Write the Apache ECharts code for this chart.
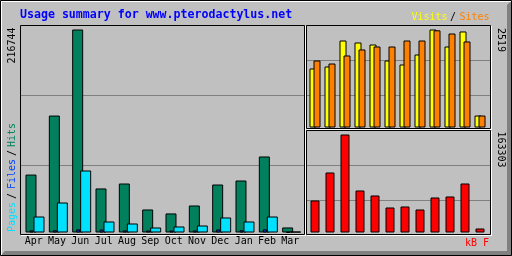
<!DOCTYPE html>
<html><head><meta charset="utf-8">
<script src="https://cdn.jsdelivr.net/npm/echarts@6/dist/echarts.min.js"></script>
<style>html,body{margin:0;padding:0;background:#c0c0c0}#c{width:512px;height:256px}</style>
</head><body><div id="c"></div>
<script>
// ---- data ----
const months = ['Apr','May','Jun','Jul','Aug','Sep','Oct','Nov','Dec','Jan','Feb','Mar'];
const hits   = [61850, 124870, 216744, 47020, 52310, 24590, 20350, 28830, 51240, 55510, 81170, 5380];
const files  = [2240, 2480, 3350, 3180, 2310, 2150, 2090, 2210, 3270, 2350, 3420, 420];
const pages  = [17080, 32030, 66200, 11750, 9610, 5340, 6410, 7470, 16020, 11750, 17080, 980];
const visits = [1517, 1568, 2236, 2185, 2133, 1722, 1619, 1876, 2519, 2082, 2468, 308];
const sites  = [1722, 1645, 1851, 2005, 2082, 2082, 2236, 2236, 2498, 2416, 2211, 308];
const kbytes = [53325, 99984, 163303, 69989, 61657, 41660, 43326, 38327, 58324, 59990, 81654, 6666];
const titleText = 'Usage summary for www.pterodactylus.net';

const maxHits = Math.max(...hits);
const maxVS = Math.max(...visits, ...sites);
const maxKB = Math.max(...kbytes);

const FONT = 'DejaVu Sans Mono';
const C = {bg:'#C0C0C0', dk:'#808080', hits:'#00805C', files:'#0040FF', pages:'#00E0FF',
           visits:'#FFFF00', sites:'#FF8000', kb:'#FF0000', title:'#0000FF'};

const chart = echarts.init(document.getElementById('c'), null, {renderer:'canvas'});

function catAxis(gi, showLabels){
  return {type:'category', gridIndex:gi, data:months, show:!!showLabels,
    axisLine:{show:false}, axisTick:{show:false},
    axisLabel:{show:!!showLabels, interval:0, color:'#000', fontFamily:FONT, fontSize:10, margin:4}};
}
function valAxis(gi, max){
  return {type:'value', gridIndex:gi, min:0, max:max, show:false, splitLine:{show:false}};
}
const L = {top:29.5, height:203, width:280};
const grids = [
  {left:19.333, top:L.top, height:L.height, width:L.width},   // hits
  {left:19.833, top:L.top, height:L.height, width:L.width},   // files
  {left:27.333, top:L.top, height:L.height, width:L.width},   // pages
  {left:22,     top:L.top, height:L.height, width:L.width},   // month labels
  {left:305.5, top:29.5, height:98, width:180},               // visits
  {left:309.5, top:29.5, height:98, width:180},               // sites
  {left:307.5, top:134.5, height:98, width:180}               // kbytes
];
const bs = (c)=>({color:c, borderColor:'#000', borderWidth:1});

function line(x1,y1,x2,y2,col){return {type:'line', silent:true, shape:{x1,y1,x2,y2}, style:{stroke:col, lineWidth:1}};}
function txt(x,y,t,col,opt){
  opt = opt||{};
  return {type:'text', silent:true, x:x, y:y, rotation:opt.rot||0,
    style:{text:t, fill:col, font:(opt.bold?'bold ':'')+(opt.size||10)+'px "'+FONT+'"',
      align:opt.align||'left', verticalAlign:'middle'}};
}

const g = [];
// outer 3D frame
g.push({type:'polygon', silent:true, shape:{points:[[1,255],[5,251],[507,251],[507,5],[511,1],[511,255]]}, style:{fill:C.dk}});
g.push(line(1,1.5,511,1.5,'#fff'));
g.push(line(1.5,1,1.5,255,'#fff'));
g.push({type:'rect', silent:true, shape:{x:0.5,y:0.5,width:511,height:255}, style:{fill:null, stroke:'#000', lineWidth:1}});
// panels
function panel(x0,y0,x1,y1){
  g.push({type:'rect', silent:true, shape:{x:x0+0.5,y:y0+0.5,width:x1-x0,height:y1-y0}, style:{fill:null, stroke:'#000', lineWidth:1}});
  g.push(line(x1+1.5, y0+1, x1+1.5, y1+2, '#fff'));
  g.push(line(x0+1, y1+1.5, x1+2, y1+1.5, '#fff'));
}
panel(20,25,304,234);
panel(306,25,490,128);
panel(306,130,490,234);
// grid lines
[95,165].forEach(y=>g.push(line(21,y+0.5,304,y+0.5,C.dk)));
[60,95].forEach(y=>g.push(line(307,y+0.5,490,y+0.5,C.dk)));
[165,200].forEach(y=>g.push(line(307,y+0.5,490,y+0.5,C.dk)));
// texts
g.push(txt(20,15,titleText,C.title,{bold:true,size:11.6}));
g.push(txt(411.5,17.2,'Visits',C.visits));
g.push(txt(450,17.2,'/','#000'));
g.push(txt(459.5,17.2,'Sites',C.sites));
g.push(txt(465,243,'kB F',C.kb));
const up = Math.PI/2;
g.push(txt(12.3,63.5,String(maxHits),'#000',{rot:up}));
g.push(txt(12.3,232,'Pages',C.pages,{rot:up}));
g.push(txt(12.3,199,'/','#000',{rot:up}));
g.push(txt(12.3,189,'Files',C.files,{rot:up}));
g.push(txt(12.3,156,'/','#000',{rot:up}));
g.push(txt(12.3,147,'Hits',C.hits,{rot:up}));
g.push(txt(501,28,String(maxVS),'#000',{rot:-up}));
g.push(txt(501,131.5,String(maxKB),'#000',{rot:-up}));

chart.setOption({
  animation:false,
  backgroundColor:C.bg,
  grid:grids,
  xAxis:[catAxis(0),catAxis(1),catAxis(2),catAxis(3,true),catAxis(4),catAxis(5),catAxis(6)],
  yAxis:[valAxis(0,maxHits),valAxis(1,maxHits),valAxis(2,maxHits),valAxis(3,maxHits),
         valAxis(4,maxVS),valAxis(5,maxVS),valAxis(6,maxKB)],
  graphic:{elements:g},
  series:[
    {name:'Hits',   type:'bar', xAxisIndex:0, yAxisIndex:0, data:hits,   barWidth:11, itemStyle:bs(C.hits)},
    {name:'Files',  type:'bar', xAxisIndex:1, yAxisIndex:1, data:files,  barWidth:4,  itemStyle:bs(C.files)},
    {name:'Pages',  type:'bar', xAxisIndex:2, yAxisIndex:2, data:pages,  barWidth:11, itemStyle:bs(C.pages)},
    {name:'Visits', type:'bar', xAxisIndex:4, yAxisIndex:4, data:visits, barWidth:7,  itemStyle:bs(C.visits)},
    {name:'Sites',  type:'bar', xAxisIndex:5, yAxisIndex:5, data:sites,  barWidth:7,  itemStyle:bs(C.sites)},
    {name:'kB F',   type:'bar', xAxisIndex:6, yAxisIndex:6, data:kbytes, barWidth:9,  itemStyle:bs(C.kb)}
  ]
});
</script></body></html>
